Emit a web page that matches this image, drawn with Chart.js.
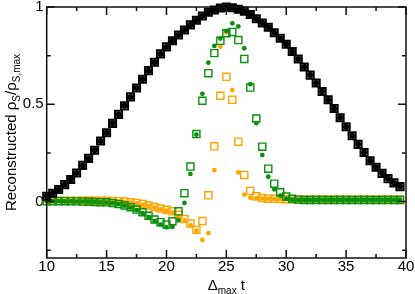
<!DOCTYPE html>
<html>
<head>
<meta charset="utf-8">
<script src="https://cdn.jsdelivr.net/npm/chart.js@4"></script>
<style>
  html, body { margin: 0; padding: 0; background: #fff; }
</style>
</head>
<body>
<canvas id="chart" width="415" height="294"></canvas>
<script>
// Δmax t sample points
const tVals = [10, 10.5, 11, 11.5, 12, 12.5, 13, 13.5, 14, 14.5, 15, 15.5, 16, 16.5, 17, 17.5, 18, 18.5, 19, 19.5,
  20, 20.5, 21, 21.5, 22, 22.5, 23, 23.5, 24, 24.5, 25, 25.5, 26, 26.5, 27, 27.5, 28, 28.5, 29, 29.5,
  30, 30.5, 31, 31.5, 32, 32.5, 33, 33.5, 34, 34.5, 35, 35.5, 36, 36.5, 37, 37.5, 38, 38.5, 39, 39.5];

// black: exact profile (squares + dots overlap)
const blackVals = [0.027, 0.043, 0.062, 0.087, 0.113, 0.147, 0.186, 0.222, 0.264, 0.311, 0.354, 0.402, 0.448, 0.492, 0.538, 0.584, 0.629, 0.673, 0.716, 0.759,
  0.795, 0.827, 0.856, 0.882, 0.908, 0.932, 0.954, 0.973, 0.985, 0.995, 1.0, 0.996, 0.988, 0.978, 0.961, 0.94, 0.918, 0.896, 0.868, 0.839,
  0.809, 0.771, 0.733, 0.692, 0.65, 0.609, 0.566, 0.523, 0.478, 0.431, 0.385, 0.338, 0.294, 0.252, 0.21, 0.176, 0.145, 0.118, 0.096, 0.077];

const greenSq = [0.002, 0.002, 0.002, 0.002, 0.001, 0.001, 0.0, -0.001, -0.002, -0.003, -0.004, -0.007, -0.012, -0.02, -0.029, -0.041, -0.055, -0.073, -0.092, -0.106,
  -0.118, -0.101, -0.05, 0.043, 0.18, 0.347, 0.518, 0.66, 0.763, 0.826, 0.865, 0.872, 0.83, 0.733, 0.586, 0.427, 0.282, 0.169, 0.092, 0.048,
  0.026, 0.014, 0.01, 0.008, 0.008, 0.008, 0.008, 0.008, 0.008, 0.008, 0.008, 0.008, 0.008, 0.008, 0.008, 0.008, 0.008, 0.008, 0.008, 0.008];

const greenDot = [0.002, 0.002, 0.002, 0.001, 0.001, 0.0, 0.0, -0.001, -0.002, -0.004, -0.005, -0.008, -0.013, -0.021, -0.031, -0.044, -0.06, -0.08, -0.1, -0.118,
  -0.132, -0.13, -0.097, -0.007, 0.142, 0.344, 0.554, 0.714, 0.8, 0.838, 0.877, 0.916, 0.9, 0.788, 0.603, 0.403, 0.239, 0.128, 0.063, 0.031,
  0.015, 0.01, 0.008, 0.008, 0.008, 0.008, 0.008, 0.008, 0.008, 0.008, 0.008, 0.008, 0.008, 0.008, 0.008, 0.008, 0.008, 0.008, 0.008, 0.008];

const orangeSq = [0.004, 0.004, 0.004, 0.004, 0.004, 0.004, 0.004, 0.004, 0.004, 0.004, 0.004, 0.003, 0.002, 0.0, -0.003, -0.007, -0.012, -0.02, -0.028, -0.036,
  -0.042, -0.05, -0.068, -0.09, -0.113, -0.145, -0.1, 0.032, 0.284, 0.544, 0.641, 0.523, 0.308, 0.137, 0.055, 0.027, 0.018, 0.015, 0.014, 0.013,
  0.012, 0.012, 0.011, 0.011, 0.011, 0.011, 0.011, 0.011, 0.011, 0.011, 0.011, 0.011, 0.011, 0.011, 0.011, 0.011, 0.011, 0.011, 0.011, 0.011];

const orangeDot = [0.003, 0.003, 0.003, 0.003, 0.003, 0.003, 0.003, 0.003, 0.003, 0.003, 0.003, 0.002, 0.0, -0.002, -0.005, -0.01, -0.016, -0.023, -0.031, -0.04,
  -0.047, -0.056, -0.076, -0.097, -0.122, -0.15, -0.197, -0.162, 0.162, 0.797, 0.87, 0.573, 0.15, 0.036, 0.02, 0.017, 0.015, 0.014, 0.013, 0.012,
  0.012, 0.011, 0.011, 0.01, 0.01, 0.01, 0.01, 0.01, 0.01, 0.01, 0.01, 0.01, 0.01, 0.01, 0.01, 0.01, 0.01, 0.01, 0.01, 0.01];

// axes
const xTicks = [10, 15, 20, 25, 30, 35, 40];
const xMinor = [12.5, 17.5, 22.5, 27.5, 32.5, 37.5];
const yTicks = [0, 0.5, 1];
const yMinor = [-0.25, 0.25, 0.75];

const FONT = "'Liberation Sans', Arial, Helvetica, sans-serif";
const green = '#0a900a', orange = '#ffa500', black = '#000';

const pts = vals => tVals.map((t, i) => ({ x: t, y: vals[i] }));
const squares = (vals, color, bw) => ({
  data: pts(vals), pointStyle: 'rect', pointRadius: 5, pointBorderWidth: bw,
  pointBorderColor: color, pointBackgroundColor: 'rgba(0,0,0,0)', showLine: false, clip: false
});
const dots = (vals, color, r) => ({
  data: pts(vals), pointStyle: 'circle', pointRadius: r, pointBorderWidth: 0,
  pointBorderColor: color, pointBackgroundColor: color, showLine: false, clip: false
});

// frame, inward ticks and axis titles with subscripts
const frame = {
  id: 'frame',
  afterDraw(chart) {
    const { ctx, chartArea: a, scales: { x, y } } = chart;
    ctx.save();
    ctx.strokeStyle = '#111';
    ctx.lineWidth = 1.5;
    ctx.strokeRect(a.left, a.top, a.right - a.left, a.bottom - a.top);
    ctx.beginPath();
    const xt = (v, len) => {
      const px = x.getPixelForValue(v);
      ctx.moveTo(px, a.bottom); ctx.lineTo(px, a.bottom - len);
      ctx.moveTo(px, a.top); ctx.lineTo(px, a.top + len);
    };
    const yt = (v, len) => {
      const py = y.getPixelForValue(v);
      ctx.moveTo(a.left, py); ctx.lineTo(a.left + len, py);
      ctx.moveTo(a.right, py); ctx.lineTo(a.right - len, py);
    };
    xTicks.forEach(v => xt(v, 8)); xMinor.forEach(v => xt(v, 4));
    yTicks.forEach(v => yt(v, 8)); yMinor.forEach(v => yt(v, 4));
    ctx.stroke();

    ctx.fillStyle = '#000';
    ctx.textBaseline = 'alphabetic';
    const drawRuns = (runs, cx, cy) => {
      let w = 0;
      runs.forEach(r => { ctx.font = r[1] + 'px ' + FONT; w += ctx.measureText(r[0]).width; });
      let px = cx - w / 2;
      runs.forEach(r => {
        ctx.font = r[1] + 'px ' + FONT;
        ctx.fillText(r[0], px, cy + r[2]);
        px += ctx.measureText(r[0]).width;
      });
    };
    drawRuns([['Δ', 15, 0], ['max', 10, 4], [' t', 15, 0]], (a.left + a.right) / 2, 290);
    ctx.translate(16, (a.top + a.bottom) / 2);
    ctx.rotate(-Math.PI / 2);
    drawRuns([['Reconstructed ρ', 15, 0], ['S', 10, 3.5], ['/ρ', 15, 0], ['S,max', 10, 3.5]], 0, 0);
    ctx.restore();
  }
};

new Chart(document.getElementById('chart'), {
  type: 'scatter',
  data: {
    datasets: [
      dots(blackVals, black, 3), squares(blackVals, black, 2),
      dots(greenDot, green, 2.4), squares(greenSq, green, 1.4),
      dots(orangeDot, orange, 2.4), squares(orangeSq, orange, 1.4)
    ]
  },
  options: {
    responsive: false, animation: false,
    layout: { padding: { top: 6, right: 9, left: 0, bottom: 0 } },
    plugins: { legend: { display: false }, tooltip: { enabled: false } },
    scales: {
      x: {
        type: 'linear', min: 10, max: 40,
        afterBuildTicks: s => { s.ticks = xTicks.map(v => ({ value: v })); },
        afterFit: s => { s.height = 36; s.paddingLeft = 0; s.paddingRight = 0; },
        grid: { display: false, drawTicks: false }, border: { display: false },
        ticks: { padding: 0, color: '#000', maxRotation: 0, autoSkip: false, font: { family: FONT, size: 15 } }
      },
      y: {
        min: -0.29, max: 1,
        afterBuildTicks: s => { s.ticks = yTicks.map(v => ({ value: v })); },
        afterFit: s => { s.width = 46.7; s.paddingTop = 0; s.paddingBottom = 0; },
        grid: { display: false, drawTicks: false }, border: { display: false },
        ticks: { padding: 3, color: '#000', font: { family: FONT, size: 15 }, callback: v => String(v) }
      }
    }
  },
  plugins: [frame]
});
</script>
</body>
</html>
